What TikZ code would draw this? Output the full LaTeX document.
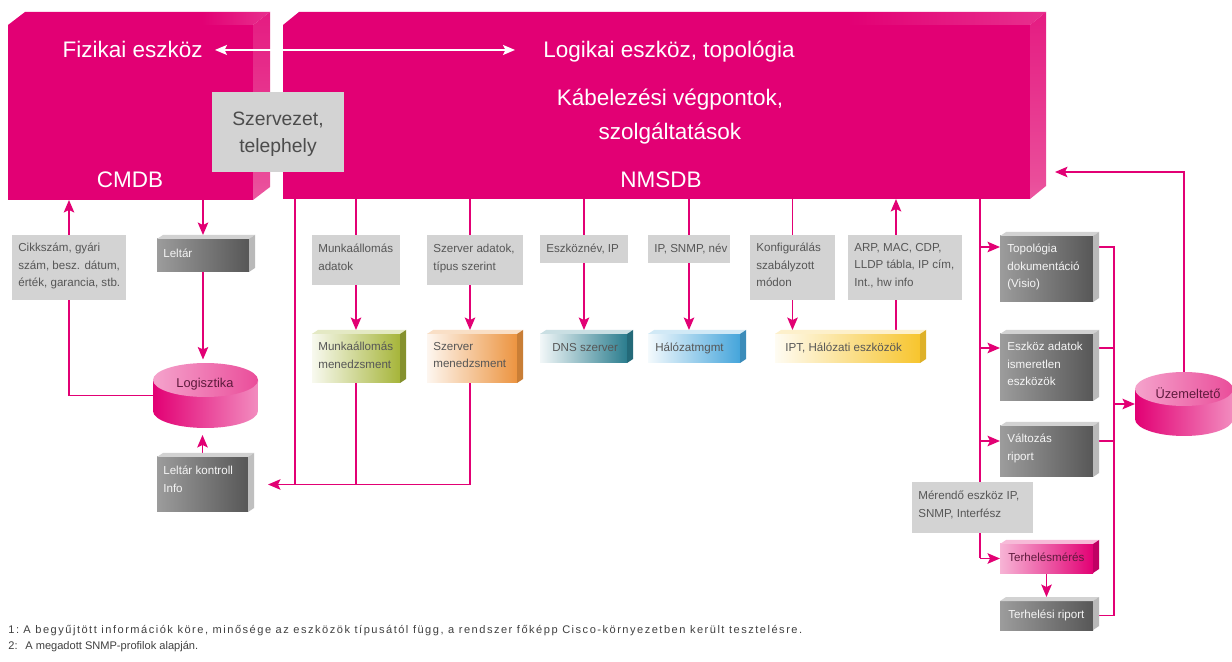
\documentclass[tikz,border=0pt]{standalone}
\usepackage{fontspec}
\setmainfont{Liberation Sans}
\usetikzlibrary{arrows.meta,fit,calc}
\pgfdeclarelayer{back}
\pgfdeclarelayer{wires}
\pgfsetlayers{back,wires,main}

\definecolor{mag}{HTML}{E20074}
\definecolor{magpale}{HTML}{F28CBF}
\definecolor{magmid}{HTML}{EA4D9A}
\definecolor{boxgray}{HTML}{D3D3D3}
\definecolor{txtgray}{HTML}{565656}
\definecolor{dkl}{HTML}{9C9C9C}
\definecolor{dkr}{HTML}{575757}
\definecolor{accolive}{HTML}{A6B53A}
\definecolor{accorange}{HTML}{EC9440}
\definecolor{accteal}{HTML}{2B7D8E}
\definecolor{accblue}{HTML}{45A5DB}
\definecolor{accyellow}{HTML}{F7C52E}
\definecolor{cyltxt}{HTML}{5E1A3C}

\pgfdeclarehorizontalshading{blocktop}{100bp}{color(0bp)=(mag); color(62bp)=(mag); color(100bp)=(magpale)}
\pgfdeclareverticalshading{blockside}{100bp}{color(0bp)=(magpale); color(30bp)=(magmid); color(100bp)=(mag)}

\newcommand\bigf{\fontsize{12.8}{19.4}\selectfont}
\newcommand\midf{\fontsize{11}{15.5}\selectfont}
\newcommand\smallf{\fontsize{6.6}{9.9}\selectfont}
\newcommand\cylf{\fontsize{7.3}{9}\selectfont}
\newcommand\footf{\fontsize{6.3}{9}\selectfont}

% a box spanning two corners, with its label placed from the upper left corner
\newcommand\pbox[9]{%
  \node[#1, fit={(#3,#4) (#5,#6)}] (#2) {};
  \node[#7] (#2-t) at ($(#2.north west)+(#8)$) {#9};}

% thin extrusion on the top and right side of a box
\newcommand\extr[3]{%
  \fill[#2] (#1.north west) -- ++(6,-4) -- ($(#1.north east)+(6,-4)$) -- (#1.north east) -- cycle;
  \fill[#3] (#1.north east) -- ++(6,-4) -- ($(#1.south east)+(6,-4)$) -- (#1.south east) -- cycle;}

\begin{document}
\begin{tikzpicture}[x=0.02cm, y=-0.02cm,
  conn/.style={draw=mag, line width=0.9pt},
  arr/.style={conn, -{Stealth[length=0.25cm, width=0.21cm, inset=0.05cm]}},
  arrx/.style={arr, shorten >=0.08cm},
  warr/.style={draw=white, line width=0.9pt,
    {Stealth[length=0.24cm, width=0.2cm, inset=0.05cm]}-{Stealth[length=0.24cm, width=0.2cm, inset=0.05cm]}},
  area/.style={inner sep=0pt, outer sep=0pt},
  graybox/.style={area, fill=boxgray},
  darkbox/.style={area, left color=dkl, right color=dkr},
  lbl/.style={inner sep=0pt, anchor=north west, align=left, font=\smallf, text=txtgray},
  wlbl/.style={lbl, text=white!92!gray},
  big/.style={inner sep=0pt, font=\bigf, text=white},
  foot/.style={inner sep=0pt, font=\footf, text=black!75},
]
\useasboundingbox (0,0) rectangle (1232,662);
\begin{pgfonlayer}{back}
  \fill[white] (0,0) rectangle (1232,662);
\end{pgfonlayer}

% ---- the two database blocks ----
\node[area, fill=mag, fit={(8,25) (253,200)}] (cmdb) {};
\shade[shading=blocktop] (cmdb.north west) -- ++(17,-13) -- ($(cmdb.north east)+(17,-13)$) -- (cmdb.north east) -- cycle;
\shade[shading=blockside] (cmdb.north east) -- ++(17,-13) -- ($(cmdb.south east)+(17,-13)$) -- (cmdb.south east) -- cycle;

\node[area, fill=mag, fit={(283,25) (1030,199)}] (nmsdb) {};
\shade[shading=blocktop] (nmsdb.north west) -- ++(16,-13) -- ($(nmsdb.north east)+(16,-13)$) -- (nmsdb.north east) -- cycle;
\shade[shading=blockside] (nmsdb.north east) -- ++(16,-13) -- ($(nmsdb.south east)+(16,-13)$) -- (nmsdb.south east) -- cycle;

\node[big, anchor=base east] (fiz) at (203,58) {Fizikai eszköz};
\node[big, anchor=base west] (logt) at (543,58) {Logikai eszköz, topológia};
\draw[warr, shorten <=0.24cm, shorten >=0.56cm] (fiz.east) -- (fiz.east -| logt.west);
\node[big, align=center] (kab) at (670,117) {Kábelezési végpontok,\\szolgáltatások};
\node[big, anchor=base] (cmdbl) at (130,188) {CMDB};
\node[big, anchor=base] (nmsdbl) at (661,188) {NMSDB};

\node[area, fill=boxgray, fit={(212,92) (344,172)}] (szerv) {};
\node[font=\midf, text=black!70, align=center, inner sep=0pt] (szerv-t) at (278,134) {Szervezet,\\telephely};

% ---- CMDB side ----
\pbox{graybox}{cikk}{12}{235}{126}{300}{lbl}{6,8}{Cikkszám, gyári\\szám, besz. dátum,\\érték, garancia, stb.}
\pbox{darkbox}{lel}{157}{239}{249}{272}{wlbl}{6,10}{Leltár}
\extr{lel}{gray!35}{gray!55}
\pbox{darkbox}{lki}{157}{457}{248}{512}{wlbl}{6,9}{Leltár kontroll\\Info}
\extr{lki}{gray!35}{gray!50}

\node[area, fit={(153,363) (258,428)}] (logi) {};
\shade[left color=mag, right color=magpale] (153,380) -- (153,411) arc[start angle=180, end angle=360, x radius=1.05cm, y radius=0.34cm] -- (258,380) -- cycle;
\shade[left color=magpale!80!white, right color=magmid] (205.5,380) ellipse[x radius=1.05cm, y radius=0.34cm];
\node[font=\cylf, text=cyltxt, inner sep=0pt] (logi-t) at (205,384) {Logisztika};

% ---- NMSDB feeds ----
\pbox{graybox}{maad}{312}{235}{400}{285}{lbl}{6,9}{Munkaállomás\\adatok}
\pbox{graybox}{szad}{427}{235}{523}{285}{lbl}{6,9}{Szerver adatok,\\típus szerint}
\pbox{graybox}{eszn}{540}{235}{628}{263}{lbl}{6,9}{Eszköznév, IP}
\pbox{graybox}{ipsn}{648}{235}{730}{263}{lbl}{6,9}{IP, SNMP, név}
\pbox{graybox}{konf}{750}{235}{835}{300}{lbl}{6,8}{Konfigurálás\\szabályzott\\módon}
\pbox{graybox}{arp}{848}{235}{962}{300}{lbl}{6,8}{ARP, MAC, CDP,\\LLDP tábla, IP cím,\\Int., hw info}

\pbox{area, left color=accolive!8!white, right color=accolive}{mamg}{312}{334}{400}{383}{lbl}{6,8}{Munkaállomás\\menedzsment}
\extr{mamg}{accolive!30!white}{accolive!80!black}
\pbox{area, left color=accorange!8!white, right color=accorange}{szmg}{427}{334}{517}{383}{lbl}{6,8}{Szerver\\menedzsment}
\extr{szmg}{accorange!30!white}{accorange!85!black}
\pbox{area, left color=accteal!6!white, right color=accteal}{dns}{540}{334}{627}{363}{lbl}{12,9}{DNS szerver}
\extr{dns}{accteal!25!white}{accteal!85!black}
\pbox{area, left color=accblue!6!white, right color=accblue}{hmg}{648}{334}{740}{363}{lbl}{7,9}{Hálózatmgmt}
\extr{hmg}{accblue!25!white}{accblue!85!black}
\pbox{area, left color=accyellow!6!white, right color=accyellow}{ipt}{775}{334}{920}{363}{lbl}{10,9}{IPT, Hálózati eszközök}
\extr{ipt}{accyellow!25!white}{accyellow!90!black}

% ---- operation side ----
\pbox{darkbox}{topo}{1000}{236}{1093}{302}{wlbl}{7,8}{Topológia\\dokumentáció\\(Visio)}
\extr{topo}{gray!35}{gray!55}
\pbox{darkbox}{eszk}{1000}{334}{1093}{401}{wlbl}{7,8}{Eszköz adatok\\ismeretlen\\eszközök}
\extr{eszk}{gray!35}{gray!55}
\pbox{darkbox}{valt}{1000}{426}{1093}{477}{wlbl}{7,8}{Változás\\riport}
\extr{valt}{gray!35}{gray!55}
\pbox{graybox}{mer}{912}{482}{1033}{533}{lbl}{6,9}{Mérendő eszköz IP,\\SNMP, Interfész}
\pbox{area, left color=magpale!65!white, right color=mag}{terh}{1000}{544}{1093}{573}{lbl, text=cyltxt}{8,9}{Terhelésmérés}
\extr{terh}{magpale!60!white}{mag!85!black}
\pbox{darkbox}{terhr}{1000}{601}{1093}{630}{wlbl}{8,9}{Terhelési riport}
\extr{terhr}{gray!35}{gray!55}

\node[area, fit={(1135,372) (1233,436)}] (uzem) {};
\shade[left color=mag, right color=magpale] (1135,389) -- (1135,419) arc[start angle=180, end angle=360, x radius=0.98cm, y radius=0.34cm] -- (1233,389) -- cycle;
\shade[left color=magpale!80!white, right color=magmid] (1184,389) ellipse[x radius=0.98cm, y radius=0.34cm];
\node[font=\cylf, text=cyltxt, inner sep=0pt] (uzem-t) at (1188,393) {Üzemeltető};

% ---- footnotes ----
\node[foot, anchor=base west] (fn1) at (8,633) {\addfontfeature{LetterSpace=13.5}1:\hspace{0.4em}A begyűjtött információk köre, minősége az eszközök típusától függ, a rendszer főképp Cisco-környezetben került tesztelésre.};
\node[foot, anchor=base west] (fn2) at (8,649) {2:\hspace{0.7em}A megadott SNMP-profilok alapján.};

% ---- connectors ----
\coordinate (xl) at (295,0);
\coordinate (xs) at (470,0);
\coordinate (xa) at (896,0);
\coordinate (xr) at (980,0);
\coordinate (xc) at (1114,0);
\coordinate (fb) at (1055,172);
\coordinate (topo-r) at ($(topo.north west)+(0,11)$);
\coordinate (eszk-r) at ($(eszk.north west)+(0,14)$);
\coordinate (valt-r) at ($(valt.north west)+(0,15)$);
\coordinate (terh-r) at (terh.west);
\coordinate (terhr-r) at (terhr.west);

\begin{pgfonlayer}{wires}
  \draw[arr] (logi.west) -- (logi.west -| cikk.south) -- (cikk.south |- cmdb.south);
  \draw[arrx] (lel.north |- cmdb.south) -- (lel.north);
  \draw[arr, shorten >=2pt] (lel.south) -- (lel.south |- logi.north);
  \draw[arr, shorten <=0.08cm, shorten >=0.14cm] (lki.north) -- (lki.north |- logi.south);

  \draw[conn] (xl |- nmsdb.south) -- (xl |- lki.east);
  \draw[conn] (maad.north |- nmsdb.south) -- (maad.north);
  \draw[arrx] (maad.south) -- (maad.south |- mamg.north);
  \draw[conn] (mamg.south) -- (mamg.south |- lki.east);
  \draw[conn] (xs |- nmsdb.south) -- (xs |- szad.north);
  \draw[arrx] (xs |- szad.south) -- (xs |- szmg.north);
  \draw[arr, shorten >=0.4cm] (xs |- szmg.south) -- (xs |- lki.east) -- (lki.east);

  \draw[conn] (eszn.north |- nmsdb.south) -- (eszn.north);
  \draw[arrx] (eszn.south) -- (eszn.south |- dns.north);
  \draw[conn] (ipsn.north |- nmsdb.south) -- (ipsn.north);
  \draw[arrx] (ipsn.south) -- (ipsn.south |- hmg.north);
  \draw[conn] (konf.north |- nmsdb.south) -- (konf.north);
  \draw[arrx] (konf.south) -- (konf.south |- ipt.north);
  \draw[conn] (xa |- ipt.north) -- (xa |- arp.south);
  \draw[arr] (xa |- arp.north) -- (xa |- nmsdb.south);

  \draw[conn] (xr |- nmsdb.south) -- (xr |- terh-r);
  \draw[arr] (xr |- topo-r) -- (topo-r);
  \draw[arr] (xr |- eszk-r) -- (eszk-r);
  \draw[arr] (xr |- valt-r) -- (valt-r);
  \draw[arr] (xr |- terh-r) -- (terh-r);
  \draw[arrx] (terh.south) -- (terh.south |- terhr.north);

  \draw[conn] (topo-r -| topo.east) -- (topo-r -| xc) -- (terhr-r -| xc) -- (terhr-r -| terhr.east);
  \draw[conn] (eszk-r -| eszk.east) -- (eszk-r -| xc);
  \draw[conn] (valt-r -| valt.east) -- (valt-r -| xc);
  \draw[arr] (uzem.west -| xc) -- (uzem.west);
  \draw[arr] (uzem.north) -- (uzem.north |- fb) -- (fb);
\end{pgfonlayer}
\end{tikzpicture}
\end{document}
